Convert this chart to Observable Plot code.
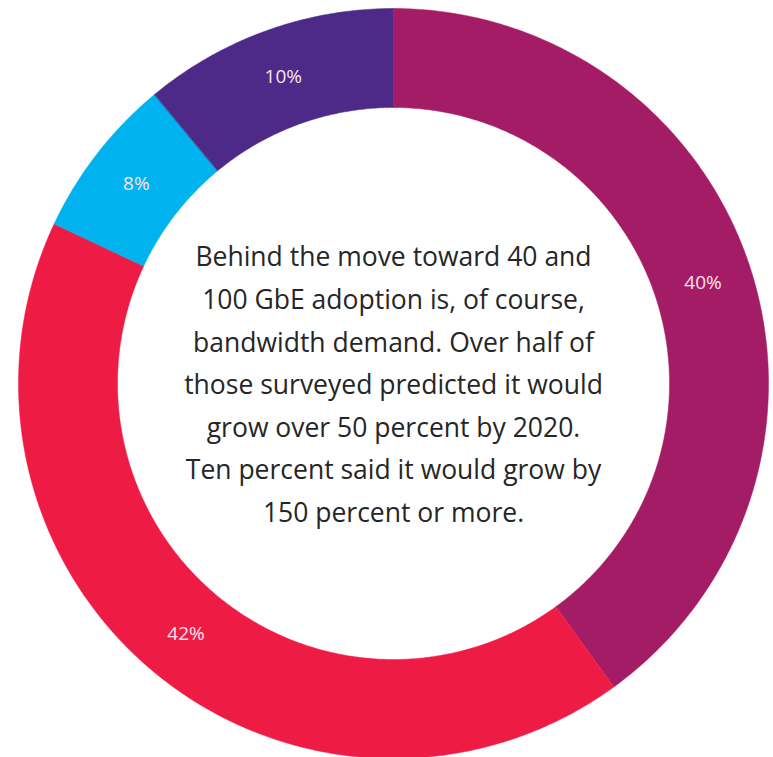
<!DOCTYPE html>
<html>
<head>
<meta charset="utf-8">
<script src="https://cdn.jsdelivr.net/npm/d3@7"></script>
<script src="https://cdn.jsdelivr.net/npm/@observablehq/plot@0.6"></script>
<style>
  html, body { margin: 0; padding: 0; background: #fff; }
  #chart { width: 773px; height: 757px; overflow: hidden; }
</style>
</head>
<body>
<div id="chart"></div>
<script>
// Slice order: clockwise from 12 o'clock
const segments = ["Segment A", "Segment B", "Segment C", "Segment D"];
const shares = [40, 42, 7, 11];           // angular share as drawn
const labels = ["40%", "42%", "8%", "10%"];
const colors = ["#a51c66", "#ee1b45", "#00b2ee", "#4d2a87"];
const centerText = [
  "Behind the move toward 40 and",
  "100 GbE adoption is, of course,",
  "bandwidth demand. Over half of",
  "those surveyed predicted it would",
  "grow over 50 percent by 2020.",
  "Ten percent said it would grow by",
  "150 percent or more."
];

const W = 773, H = 757;
const cx = 393, cy = 383;
const R_OUT = 375, R_IN = 276;

const pie = d3.pie().sort(null).value(d => d)(shares);

const ringPoints = [];
const labelPoints = [];
pie.forEach((p, i) => {
  const a0 = p.startAngle, a1 = p.endAngle;
  const n = Math.max(8, Math.ceil((a1 - a0) / 0.01));
  for (let k = 0; k <= n; k++) {
    const a = a0 + (a1 - a0) * k / n;
    ringPoints.push({seg: segments[i], x: R_OUT * Math.sin(a), y: -R_OUT * Math.cos(a)});
  }
  for (let k = n; k >= 0; k--) {
    const a = a0 + (a1 - a0) * k / n;
    ringPoints.push({seg: segments[i], x: R_IN * Math.sin(a), y: -R_IN * Math.cos(a)});
  }
  const am = (a0 + a1) / 2, rm = (R_OUT + R_IN) / 2;
  labelPoints.push({seg: segments[i], label: labels[i], x: rm * Math.sin(am), y: -rm * Math.cos(am)});
});

const chart = Plot.plot({
  width: W,
  height: H,
  margin: 0,
  x: {domain: [-cx, W - cx], range: [0, W], axis: null},
  y: {domain: [-cy, H - cy], range: [0, H], axis: null},
  color: {domain: segments, range: colors},
  style: {background: "#fff"},
  marks: [
    Plot.line(ringPoints, {x: "x", y: "y", z: "seg", fill: "seg", stroke: "seg", strokeWidth: 0.5, curve: "linear-closed"}),
    Plot.text(labelPoints, {x: "x", y: "y", text: "label", fill: "#fbe3ee", fontSize: 19, fontFamily: "Open Sans, sans-serif", fontWeight: 400}),
    Plot.text([centerText.join("\n")], {x: () => 0, y: () => -3, text: d => d, fill: "#262626", fontSize: 26.5, lineHeight: 1.61, fontFamily: "Open Sans, sans-serif", fontWeight: 400})
  ]
});
document.getElementById("chart").appendChild(chart);
</script>
</body>
</html>
